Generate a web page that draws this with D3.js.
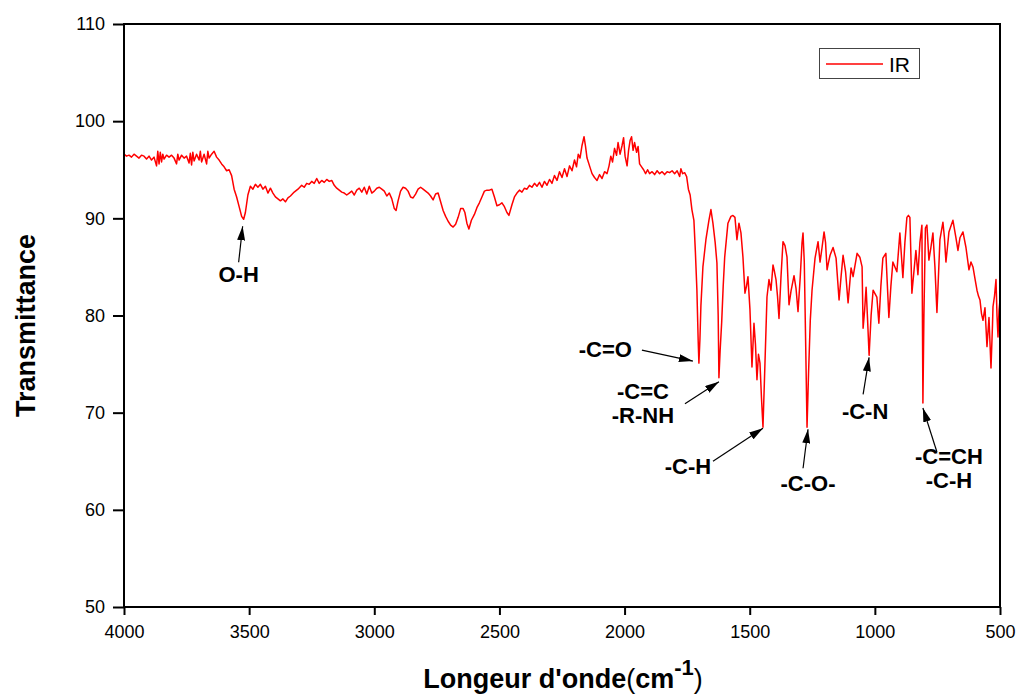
<!DOCTYPE html>
<html>
<head>
<meta charset="utf-8">
<script src="https://cdn.jsdelivr.net/npm/d3@7"></script>
<style>
  html, body { margin: 0; padding: 0; background: #fff; }
  svg { display: block; font-family: Arial, "Liberation Sans", sans-serif; }
</style>
</head>
<body>
<svg id="chart" width="1019" height="695"></svg>
<script>
// IR spectrum: wavenumber (cm-1) and transmittance (%)
const wavenumber = [
  4000,3990,3980,3970,3960,3950,3940,3930,3920,3910,3900,3890,3880,3870,3865,3860,3855,3850,3845,3840,
  3830,3820,3810,3800,3790,3785,3780,3770,3760,3750,3740,3735,3730,3725,3720,3710,3700,3695,3690,3680,
  3670,3665,3660,3650,3640,3630,3620,3610,3600,3590,3580,3570,3560,3550,3540,3530,3522,3515,3505,3495,
  3485,3475,3465,3455,3445,3435,3425,3415,3405,3395,3385,3375,3365,3355,3345,3335,3320,3305,3290,3280,
  3270,3260,3250,3240,3230,3220,3210,3200,3190,3180,3170,3160,3150,3140,3130,3120,3110,3100,3090,3080,
  3070,3060,3050,3040,3030,3020,3010,3000,2990,2980,2970,2960,2950,2940,2930,2920,2913,2905,2895,2885,
  2875,2865,2855,2845,2835,2825,2815,2805,2795,2785,2775,2765,2755,2745,2735,2725,2715,2705,2695,2685,
  2675,2665,2655,2645,2638,2630,2622,2612,2600,2590,2580,2570,2560,2550,2540,2530,2520,2510,2500,2490,
  2480,2470,2462,2450,2440,2430,2420,2410,2400,2390,2380,2370,2360,2350,2340,2330,2320,2310,2300,2290,
  2280,2270,2260,2250,2240,2230,2220,2210,2200,2192,2185,2178,2170,2162,2156,2150,2140,2130,2120,2110,
  2100,2090,2080,2070,2062,2055,2048,2040,2032,2026,2018,2010,2004,1998,1990,1984,1978,1972,1966,1960,
  1952,1946,1940,1932,1924,1916,1908,1900,1890,1880,1870,1860,1850,1840,1830,1820,1810,1800,1790,1780,
  1775,1768,1760,1752,1745,1738,1731,1723,1717,1711,1706,1703,1699,1695,1687,1675,1663,1655,1647,1638,
  1631,1626,1623,1618,1612,1606,1600,1587,1575,1567,1559,1551,1543,1535,1527,1519,1513,1507,1499,1491,
  1483,1477,1471,1465,1459,1453,1447,1441,1435,1431,1423,1415,1407,1401,1395,1389,1383,1375,1367,1359,
  1351,1343,1335,1323,1315,1307,1298,1291,1287,1282,1277,1271,1265,1258,1251,1239,1227,1219,1211,1203,
  1197,1191,1185,1179,1167,1155,1143,1135,1127,1117,1107,1095,1087,1071,1060,1051,1047,1041,1035,1029,
  1023,1015,1007,992,984,976,968,956,944,936,928,912,900,888,880,872,866,860,852,844,
  836,828,820,812,808,804,798,792,784,776,768,760,752,746,740,728,722,716,710,704,
  696,688,676,668,660,648,636,624,616,608,600,592,586,580,574,568,560,552,544,536,
  530,528,522,516,512,508,504,500
];
const transmittance = [
  96.6,96.4,96.5,96.3,96.6,96.4,96.2,96.5,96.4,96.1,96.4,96.0,96.3,95.4,96.9,95.6,96.8,95.8,96.6,96.1,
  96.5,96.3,96.5,96.2,95.6,96.6,96.0,96.5,96.2,96.4,95.7,96.7,95.5,96.8,95.9,96.6,96.0,96.9,95.8,96.6,
  95.6,96.9,96.2,96.6,96.9,96.3,96.0,95.6,95.3,94.9,95.0,94.4,93.0,92.2,91.2,90.2,89.9,90.6,92.4,93.3,
  93.0,93.5,93.2,93.5,93.0,93.3,92.6,93.1,92.6,92.2,92.0,91.8,92.0,91.7,92.1,92.3,92.7,93.0,93.4,93.2,
  93.6,93.5,93.8,93.6,94.1,93.6,93.9,93.7,94.0,93.8,93.9,93.4,93.1,92.9,92.7,92.6,92.4,92.6,92.8,92.4,
  92.9,93.1,92.7,93.2,92.5,93.3,92.6,92.8,93.1,93.2,93.0,92.8,92.3,92.6,92.0,91.0,90.8,91.8,92.8,93.2,
  93.1,92.8,92.2,92.1,92.5,93.0,93.2,93.0,92.8,92.6,92.3,91.9,92.5,92.6,91.7,90.8,90.2,89.7,89.3,89.1,
  89.4,90.1,91.0,91.0,90.6,89.5,88.9,89.8,90.4,91.1,91.6,92.2,92.8,92.9,92.9,93.0,92.2,91.3,91.4,91.6,
  91.2,90.6,90.3,91.4,92.2,92.6,92.9,92.7,93.1,93.0,93.4,93.2,93.6,93.3,93.7,93.2,93.8,93.4,94.0,93.6,
  94.4,93.9,94.8,94.2,95.1,94.3,95.4,94.9,96.0,95.3,96.6,96.2,97.5,98.4,97.4,96.2,95.4,94.6,94.2,93.9,
  94.5,94.1,94.8,94.6,95.4,96.4,95.8,97.2,96.5,97.8,96.6,97.5,98.3,96.4,95.4,97.0,98.0,98.4,97.0,97.8,
  96.8,97.4,95.6,95.3,95.0,94.6,95.0,94.6,94.8,94.5,94.9,94.6,94.8,94.5,94.8,94.7,94.9,94.6,94.9,94.3,
  95.1,94.6,94.7,94.3,93.0,92.4,90.9,89.8,86.5,82.6,77.5,75.1,77.5,81.0,85.0,87.8,89.8,90.9,89.5,87.5,
  85.4,80.0,73.6,76.5,79.3,83.0,86.0,89.5,90.2,90.3,90.1,87.8,89.5,88.5,86.0,82.3,83.0,84.0,80.6,74.7,
  79.2,77.0,73.4,76.0,75.1,71.5,68.5,73.5,78.5,81.9,83.7,82.6,85.2,84.5,83.7,82.0,79.7,84.0,87.6,87.2,
  86.0,81.1,82.5,84.1,82.8,80.4,84.0,87.5,88.5,85.5,78.0,68.5,74.0,79.5,82.6,85.9,87.6,85.5,87.0,88.6,
  87.5,84.7,85.5,86.2,87.0,85.9,81.6,84.0,86.2,84.5,81.3,84.9,84.0,86.4,86.0,85.0,78.7,80.5,82.9,79.5,
  75.9,80.0,82.6,81.9,79.2,83.0,85.9,86.4,79.8,83.0,85.5,84.5,88.5,83.9,87.5,90.1,90.3,90.1,82.3,84.5,
  86.7,84.2,87.5,89.3,71.0,80.0,89.0,89.3,85.7,87.0,88.5,85.0,80.3,84.0,87.8,89.6,88.0,85.5,87.0,88.6,
  89.2,89.8,88.0,86.7,88.0,88.6,87.0,84.7,85.5,85.0,83.8,82.6,82.0,81.6,80.2,79.5,80.8,76.8,79.8,74.6,
  79.0,80.9,82.0,83.7,80.0,77.8,80.5,81.6
];

// Axis ticks
const xTicks = [4000, 3500, 3000, 2500, 2000, 1500, 1000, 500];
const yTicks = [50, 60, 70, 80, 90, 100, 110];

// Band assignments: label lines, band wavenumber, band transmittance
const bandLabels = [["O-H"], ["-C=O"], ["-C=C", "-R-NH"], ["-C-H"], ["-C-O-"], ["-C-N"], ["-C=CH", "-C-H"]];
const bandWavenumber = [3522, 1703, 1623, 1447, 1271, 1023, 808];
const bandTransmittance = [89.9, 75.1, 73.6, 68.5, 68.5, 75.9, 71.0];

const svg = d3.select("#chart");
const plot = { left: 124, right: 1000, top: 24, bottom: 607 };

const x = d3.scaleLinear().domain([4000, 500]).range([plot.left, plot.right]);
const y = d3.scaleLinear().domain([50, 110]).range([plot.bottom, plot.top]);

// Spectrum trace
const pts = wavenumber.map((w, i) => [w, transmittance[i]]);
svg.append("path")
  .datum(pts)
  .attr("fill", "none")
  .attr("stroke", "#ff0000")
  .attr("stroke-width", 1.5)
  .attr("stroke-linejoin", "round")
  .attr("d", d3.line().x(d => x(d[0])).y(d => y(d[1])));

// Axes
const yAxis = svg.append("g")
  .attr("transform", `translate(${plot.left},0)`)
  .call(d3.axisLeft(y).tickValues(yTicks).tickSize(11).tickPadding(8));
const xAxis = svg.append("g")
  .attr("transform", `translate(0,${plot.bottom})`)
  .call(d3.axisBottom(x).tickValues(xTicks).tickFormat(d3.format("d")).tickSize(8).tickPadding(10));
[yAxis, xAxis].forEach(g => {
  g.select(".domain").remove();
  g.selectAll(".tick line").attr("stroke", "#000").attr("stroke-width", 2);
  g.selectAll(".tick text").attr("fill", "#000").style("font-size", "18px").style("font-family", "Arial, 'Liberation Sans', sans-serif");
});

// Frame
svg.append("rect")
  .attr("x", plot.left).attr("y", plot.top)
  .attr("width", plot.right - plot.left).attr("height", plot.bottom - plot.top)
  .attr("fill", "none").attr("stroke", "#000").attr("stroke-width", 2);

// Axis titles
svg.append("text")
  .attr("transform", `translate(35,${(plot.top + plot.bottom) / 2 + 10}) rotate(-90)`)
  .attr("text-anchor", "middle")
  .style("font-size", "27px").style("font-weight", "bold")
  .text("Transmittance");

const xt = svg.append("text")
  .attr("x", 563).attr("y", 688)
  .attr("text-anchor", "middle")
  .style("font-size", "27px").style("font-weight", "bold");
xt.append("tspan").text("Longeur d'onde");
xt.append("tspan").style("font-weight", "normal").text("(");
xt.append("tspan").text("cm");
xt.append("tspan").attr("dy", -13).style("font-size", "22px").text("-1");
xt.append("tspan").attr("dy", 13).style("font-weight", "normal").text(")");

// Legend
const lg = svg.append("g");
lg.append("rect").attr("x", 819.5).attr("y", 48.5).attr("width", 100).attr("height", 30)
  .attr("fill", "#fff").attr("stroke", "#444").attr("stroke-width", 1);
lg.append("line").attr("x1", 826).attr("x2", 883).attr("y1", 64).attr("y2", 64)
  .attr("stroke", "#ff0000").attr("stroke-width", 1.5);
lg.append("text").attr("x", 889).attr("y", 72).style("font-size", "21px").text("IR");

// Annotation arrows: tip offset from the band point, tail offset from tip, label anchor offset from tip
const annLayout = [
  { tip: [-1, 7],  tail: [-4, 36],  text: [-4, 56],  anchor: "middle" },
  { tip: [-6, -2], tail: [-51, -11], text: [-61, -4], anchor: "end" },
  { tip: [0, 4],   tail: [-34, 22], text: [-76, 17], anchor: "middle" },
  { tip: [0, 1],   tail: [-50, 33], text: [-75, 46], anchor: "middle" },
  { tip: [1, 2],   tail: [-5, 39],  text: [0, 62],   anchor: "middle" },
  { tip: [0, 2],   tail: [-6, 37],  text: [-4, 62],  anchor: "middle" },
  { tip: [0, 5],   tail: [14, 44],  text: [26, 56],  anchor: "middle" }
];

svg.append("defs").append("marker")
  .attr("id", "arrowhead")
  .attr("viewBox", "0 0 14 8")
  .attr("refX", 14).attr("refY", 4)
  .attr("markerWidth", 14).attr("markerHeight", 8)
  .attr("markerUnits", "userSpaceOnUse")
  .attr("orient", "auto")
  .append("path").attr("d", "M0,0 L14,4 L0,8 Z").attr("fill", "#000");

const ann = svg.append("g");
bandLabels.forEach((lines, i) => {
  const L = annLayout[i];
  const px = x(bandWavenumber[i]), py = y(bandTransmittance[i]);
  const tx = px + L.tip[0], ty = py + L.tip[1];
  ann.append("line")
    .attr("x1", tx + L.tail[0]).attr("y1", ty + L.tail[1])
    .attr("x2", tx).attr("y2", ty)
    .attr("stroke", "#000").attr("stroke-width", 1.2)
    .attr("marker-end", "url(#arrowhead)");
  const t = ann.append("text")
    .attr("x", tx + L.text[0]).attr("y", ty + L.text[1])
    .attr("text-anchor", L.anchor)
    .style("font-size", "22px").style("font-weight", "bold");
  lines.forEach((s, j) => {
    t.append("tspan").attr("x", tx + L.text[0]).attr("dy", j === 0 ? 0 : 24).text(s);
  });
});
</script>
</body>
</html>
